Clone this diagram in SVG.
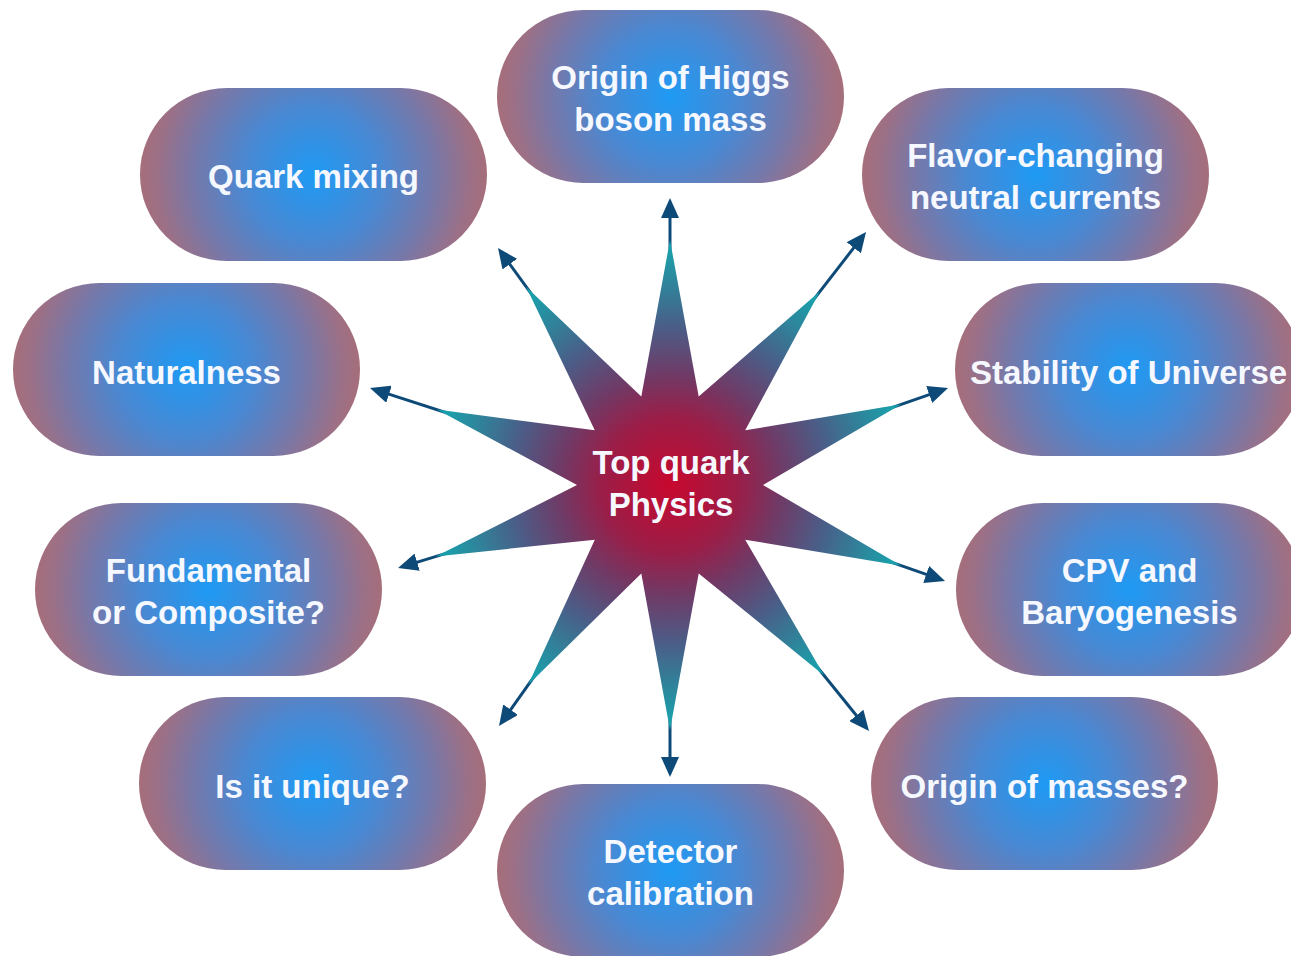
<svg xmlns="http://www.w3.org/2000/svg" width="1291" height="956" viewBox="0 0 1291 956">
  <defs>
    <radialGradient id="nodeGrad" gradientUnits="userSpaceOnUse" cx="0" cy="0" r="174">
      <stop offset="0" stop-color="#1e9af4"/>
      <stop offset="0.4" stop-color="#4a88d2"/>
      <stop offset="0.7" stop-color="#7878a8"/>
      <stop offset="0.9" stop-color="#9c7086"/>
      <stop offset="1" stop-color="#a66e7a"/>
    </radialGradient>
    <radialGradient id="starGrad" gradientUnits="userSpaceOnUse" cx="670" cy="485" r="245">
      <stop offset="0" stop-color="#c8082e"/>
      <stop offset="0.28" stop-color="#9a1e48"/>
      <stop offset="0.45" stop-color="#703a66"/>
      <stop offset="0.65" stop-color="#4a5e88"/>
      <stop offset="0.85" stop-color="#2a8a9e"/>
      <stop offset="1" stop-color="#14a8b0"/>
    </radialGradient>
    <marker id="arrow" markerUnits="userSpaceOnUse" markerWidth="20" markerHeight="18" viewBox="0 0 20 18" refX="10" refY="9" orient="auto">
      <path d="M0,0 L20,9 L0,18 z" fill="#0e4a78"/>
    </marker>
    <style>
      .pill { fill: url(#nodeGrad); }
      .lbl { font-family: "Liberation Sans", Arial, Helvetica, sans-serif; font-weight: bold; font-size: 33px; fill: #f6f8ff; text-anchor: middle; }
      .conn { stroke: #0e4a78; stroke-width: 3; fill: none; marker-end: url(#arrow); }
    </style>
  </defs>

  <rect width="1291" height="956" fill="#ffffff"/>

  <g id="connectors">
    <line class="conn" x1="670" y1="285" x2="670" y2="208"/>
    <line class="conn" x1="552.6" y1="323.2" x2="503.9" y2="256.1"/>
    <line class="conn" x1="792.5" y1="326.9" x2="859.9" y2="239.9"/>
    <line class="conn" x1="479.7" y1="423.5" x2="379.5" y2="391.1"/>
    <line class="conn" x1="858.9" y1="419.1" x2="938.6" y2="391.3"/>
    <line class="conn" x1="478.7" y1="543.4" x2="407.6" y2="565.1"/>
    <line class="conn" x1="858.8" y1="550.9" x2="935.6" y2="577.7"/>
    <line class="conn" x1="554.3" y1="648.1" x2="504.8" y2="717.8"/>
    <line class="conn" x1="670" y1="685" x2="670" y2="767"/>
    <line class="conn" x1="795.8" y1="640.5" x2="862.7" y2="723.2"/>
  </g>

  <g id="top-quark-physics">
    <polygon fill="url(#starGrad)" points="670,240 698.7,396.5 820,291.3 745.2,430.3 901.3,404.3 763,485 901.3,565.8 745.2,539.7 824.1,675.5 698.7,573.5 670,730 641.3,573.5 528.2,684.8 594.8,539.7 435.7,556.5 577,485 436.9,409.6 594.8,430.3 526.1,286.7 641.3,396.5"/>
    <text class="lbl" x="671" y="474">Top quark</text>
    <text class="lbl" x="671" y="516">Physics</text>
  </g>

  <g id="higgs" transform="translate(670.5,96.5)">
    <rect class="pill" x="-173.5" y="-86.5" width="347" height="173" rx="86.5"/>
    <text class="lbl" x="0" y="-8">Origin of Higgs</text>
    <text class="lbl" x="0" y="34">boson mass</text>
  </g>

  <g id="quark-mixing" transform="translate(313.5,174.5)">
    <rect class="pill" x="-173.5" y="-86.5" width="347" height="173" rx="86.5"/>
    <text class="lbl" x="0" y="13">Quark mixing</text>
  </g>

  <g id="fcnc" transform="translate(1035.5,174.5)">
    <rect class="pill" x="-173.5" y="-86.5" width="347" height="173" rx="86.5"/>
    <text class="lbl" x="0" y="-8">Flavor-changing</text>
    <text class="lbl" x="0" y="34">neutral currents</text>
  </g>

  <g id="naturalness" transform="translate(186.5,369.5)">
    <rect class="pill" x="-173.5" y="-86.5" width="347" height="173" rx="86.5"/>
    <text class="lbl" x="0" y="14">Naturalness</text>
  </g>

  <g id="stability" transform="translate(1128.5,369.5)">
    <rect class="pill" x="-173.5" y="-86.5" width="347" height="173" rx="86.5"/>
    <text class="lbl" x="0" y="14">Stability of Universe</text>
  </g>

  <g id="fundamental" transform="translate(208.5,589.5)">
    <rect class="pill" x="-173.5" y="-86.5" width="347" height="173" rx="86.5"/>
    <text class="lbl" x="0" y="-8">Fundamental</text>
    <text class="lbl" x="0" y="34">or Composite?</text>
  </g>

  <g id="cpv" transform="translate(1129.5,589.5)">
    <rect class="pill" x="-173.5" y="-86.5" width="347" height="173" rx="86.5"/>
    <text class="lbl" x="0" y="-8">CPV and</text>
    <text class="lbl" x="0" y="34">Baryogenesis</text>
  </g>

  <g id="unique" transform="translate(312.5,783.5)">
    <rect class="pill" x="-173.5" y="-86.5" width="347" height="173" rx="86.5"/>
    <text class="lbl" x="0" y="14">Is it unique?</text>
  </g>

  <g id="masses" transform="translate(1044.5,783.5)">
    <rect class="pill" x="-173.5" y="-86.5" width="347" height="173" rx="86.5"/>
    <text class="lbl" x="0" y="14">Origin of masses?</text>
  </g>

  <g id="detector" transform="translate(670.5,870.5)">
    <rect class="pill" x="-173.5" y="-86.5" width="347" height="173" rx="86.5"/>
    <text class="lbl" x="0" y="-8">Detector</text>
    <text class="lbl" x="0" y="34">calibration</text>
  </g>
</svg>
